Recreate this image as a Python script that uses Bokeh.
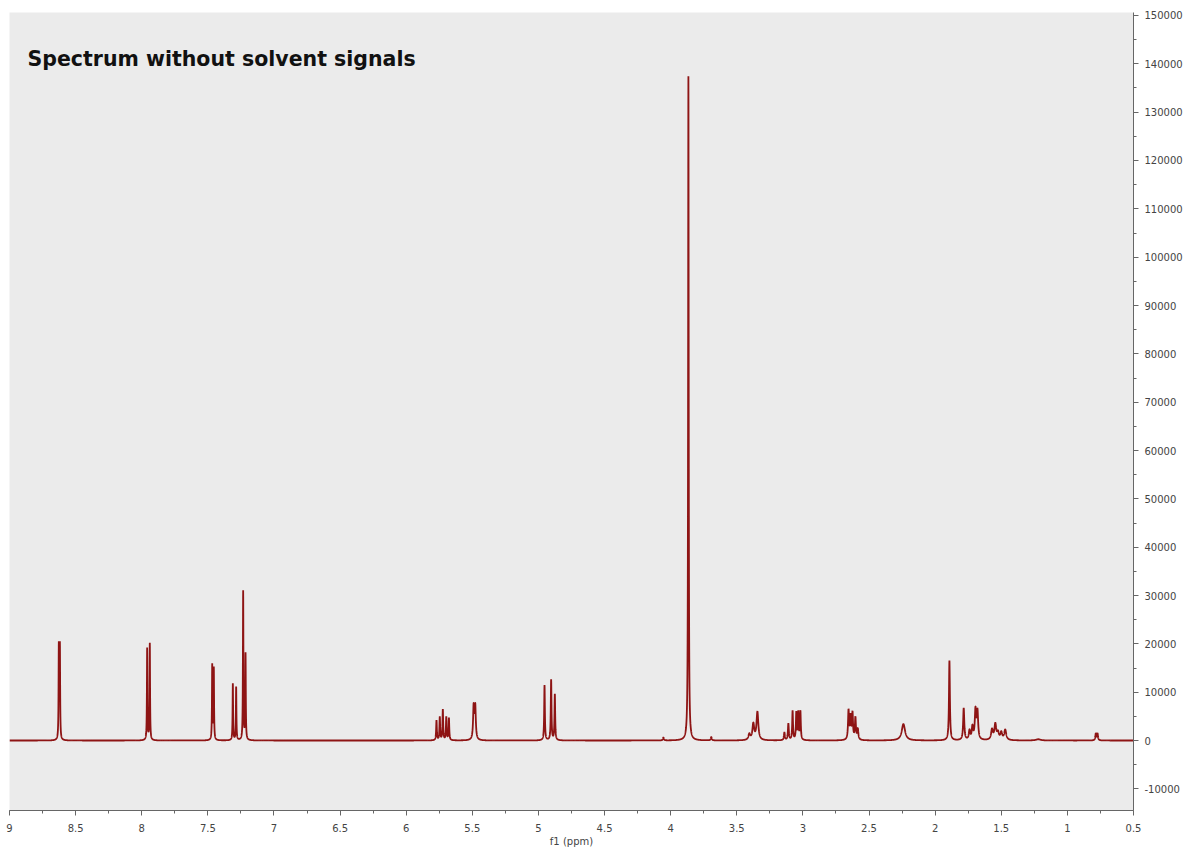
import numpy as np
from bokeh.plotting import figure
from bokeh.models import Range1d, SingleIntervalTicker, NumeralTickFormatter, Label
from bokeh.embed import file_html
from bokeh.resources import INLINE

# Peak table: chemical shift (ppm), height, half width (ppm)
peak_ppm = [8.627, 8.619, 7.959, 7.939, 7.467, 7.455, 7.311, 7.286, 7.233, 7.215,
            5.771, 5.746, 5.723, 5.697, 5.677, 5.490, 5.478,
            4.954, 4.904, 4.876, 4.055, 3.866, 3.693,
            3.405, 3.375, 3.344,
            3.140, 3.110, 3.078, 3.050, 3.035, 3.019,
            2.655, 2.640, 2.625, 2.603, 2.585,
            2.240, 1.892, 1.784,
            1.740, 1.718, 1.695, 1.680,
            1.570, 1.545, 1.525, 1.500, 1.470,
            1.220, 0.785, 0.772]
peak_height = [19200, 19200, 19000, 20000, 15500, 14800, 11700, 11000, 30800, 17800,
               4100, 4800, 6300, 4800, 4600, 6800, 6800,
               11400, 12500, 9500, 600, 137400, 700,
               1200, 3300, 5800,
               1600, 3400, 6000, 5600, 5600, 5900,
               6000, 4600, 5400, 4500, 2200,
               3400, 16500, 6600,
               1900, 2600, 6000, 5700,
               2100, 3200, 1400, 1500, 2100,
               250, 1400, 1400]
peak_hwhm = [0.0022, 0.0022, 0.0022, 0.0022, 0.0022, 0.0022, 0.0022, 0.0022, 0.0022, 0.0022,
             0.003, 0.003, 0.003, 0.003, 0.003, 0.005, 0.005,
             0.003, 0.003, 0.003, 0.004, 0.0025, 0.004,
             0.008, 0.008, 0.008,
             0.004, 0.004, 0.0035, 0.0035, 0.0035, 0.0035,
             0.0045, 0.0045, 0.0045, 0.0045, 0.005,
             0.015, 0.004, 0.005,
             0.006, 0.006, 0.006, 0.006,
             0.008, 0.008, 0.008, 0.008, 0.009,
             0.02, 0.004, 0.004]

title_text = "Spectrum without solvent signals"

ppm = np.linspace(9.0, 0.5, 17001)
intensity = np.zeros_like(ppm)
for c, h, w in zip(peak_ppm, peak_height, peak_hwhm):
    intensity += h * w**2 / ((ppm - c) ** 2 + w**2)

p = figure(frame_width=1124, frame_height=798, output_backend="svg", toolbar_location=None,
           x_range=Range1d(9.0, 0.5), y_range=Range1d(-14480, 150620),
           y_axis_location="right", min_border_left=9, min_border_top=12,
           min_border_right=2, min_border_bottom=2)
p.background_fill_color = "#ebebeb"
p.border_fill_color = "white"
p.outline_line_color = None
p.grid.visible = False

p.line(ppm, intensity, line_color="#8e1414", line_width=1.8)

p.xaxis.ticker = SingleIntervalTicker(interval=0.5, num_minor_ticks=2)
p.yaxis.ticker = SingleIntervalTicker(interval=10000, num_minor_ticks=2)
p.xaxis.formatter = NumeralTickFormatter(format="0.[0]")
p.yaxis.formatter = NumeralTickFormatter(format="0")
for ax in (p.xaxis, p.yaxis):
    ax.axis_line_color = "#666666"
    ax.major_tick_line_color = "#666666"
    ax.minor_tick_line_color = "#666666"
    ax.major_tick_in = 0
    ax.major_tick_out = 5
    ax.minor_tick_in = 0
    ax.minor_tick_out = 3
    ax.major_label_text_font = "DejaVu Sans"
    ax.major_label_text_font_size = "10px"
    ax.major_label_text_color = "#444444"
p.xaxis.major_label_standoff = 8
p.yaxis.major_label_standoff = 6
p.xaxis.axis_label = "f1 (ppm)"
p.xaxis.axis_label_text_font = "DejaVu Sans"
p.xaxis.axis_label_text_font_size = "10px"
p.xaxis.axis_label_text_font_style = "normal"
p.xaxis.axis_label_text_color = "#444444"
p.xaxis.axis_label_standoff = 1

p.add_layout(Label(x=8.864, y=141100, text=title_text, text_font="DejaVu Sans",
                   text_font_style="bold", text_font_size="20.5px", text_color="#111111",
                   text_baseline="alphabetic"))

open("out.html", "w").write(file_html(p, INLINE))
